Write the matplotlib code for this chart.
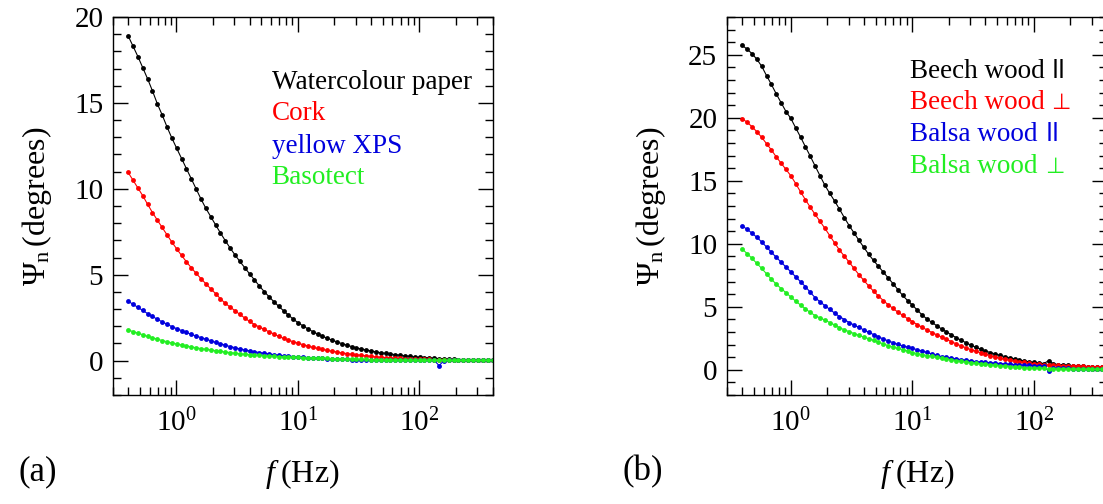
import numpy as np
import matplotlib
matplotlib.use('Agg')
import matplotlib.pyplot as plt
from matplotlib.ticker import MultipleLocator, LogLocator, NullFormatter

plt.rcParams['font.family'] = ['Liberation Serif', 'DejaVu Sans']
plt.rcParams['mathtext.fontset'] = 'custom'
plt.rcParams['mathtext.rm'] = 'Liberation Serif'
plt.rcParams['mathtext.it'] = 'Liberation Serif:italic'
plt.rcParams['mathtext.default'] = 'regular'

# frequency sweep (Hz), 25 points per decade from 0.4 to 400 Hz
freq = np.logspace(np.log10(0.4), np.log10(400), 76)

# panel (a)
watercolour = [18.9, 18.3, 17.7, 17.05, 16.4, 15.7, 14.95, 14.3, 13.6, 12.95,
               12.35, 11.76, 11.17, 10.58, 9.99, 9.4, 8.86, 8.38, 7.9, 7.43,
               6.98, 6.55, 6.15, 5.77, 5.41, 5.05, 4.7, 4.35, 4.02, 3.72,
               3.43, 3.16, 2.9, 2.65, 2.41, 2.2, 2.02, 1.85, 1.69, 1.55,
               1.42, 1.3, 1.19, 1.09, 0.99, 0.9, 0.82, 0.74, 0.68, 0.62,
               0.56, 0.51, 0.46, 0.42, 0.38, 0.35, 0.31, 0.28, 0.25, 0.22,
               0.2, 0.18, 0.16, 0.14, 0.12, 0.1, 0.08, 0.07, 0.06, 0.05,
               0.05, 0.04, 0.04, 0.03, 0.03, 0.03]
cork = [10.95, 10.5, 10.05, 9.6, 9.1, 8.62, 8.18, 7.75, 7.32, 6.9,
        6.5, 6.12, 5.75, 5.4, 5.08, 4.77, 4.47, 4.18, 3.9, 3.6,
        3.33, 3.12, 2.9, 2.69, 2.48, 2.28, 2.1, 1.96, 1.82, 1.68,
        1.55, 1.41, 1.29, 1.19, 1.1, 1.01, 0.93, 0.85, 0.77, 0.71,
        0.65, 0.6, 0.55, 0.5, 0.45, 0.41, 0.37, 0.34, 0.31, 0.28,
        0.25, 0.22, 0.2, 0.18, 0.16, 0.14, 0.13, 0.12, 0.1, 0.09,
        0.08, 0.08, 0.07, 0.06, 0.06, 0.05, 0.05, 0.04, 0.04, 0.03,
        0.03, 0.03, 0.02, 0.02, 0.02, 0.02]
yellow_xps = [3.46, 3.28, 3.1, 2.92, 2.74, 2.57, 2.41, 2.26, 2.12, 1.98,
              1.86, 1.75, 1.64, 1.53, 1.43, 1.34, 1.25, 1.16, 1.06, 0.98,
              0.9, 0.82, 0.75, 0.68, 0.62, 0.57, 0.52, 0.47, 0.43, 0.39,
              0.35, 0.31, 0.28, 0.26, 0.24, 0.22, 0.2, 0.18, 0.17, 0.15,
              0.13, 0.12, 0.1, 0.09, 0.08, 0.07, 0.06, 0.05, 0.05, 0.04,
              0.04, 0.03, 0.03, 0.03, 0.02, 0.02, 0.02, 0.02, 0.02, 0.02,
              0.02, 0.02, 0.02, 0.02, -0.29, 0.0, 0.02, 0.02, 0.02, 0.02,
              0.02, 0.02, 0.02, 0.02, 0.02, 0.02]
basotect = [1.79, 1.69, 1.6, 1.51, 1.41, 1.33, 1.25, 1.17, 1.1, 1.03,
            0.97, 0.91, 0.86, 0.8, 0.75, 0.7, 0.66, 0.62, 0.58, 0.54,
            0.5, 0.47, 0.43, 0.4, 0.37, 0.35, 0.33, 0.31, 0.29, 0.27,
            0.25, 0.24, 0.23, 0.21, 0.2, 0.19, 0.18, 0.17, 0.16, 0.15,
            0.14, 0.13, 0.12, 0.11, 0.1, 0.1, 0.09, 0.08, 0.07, 0.07,
            0.06, 0.06, 0.05, 0.05, 0.04, 0.04, 0.03, 0.03, 0.03, 0.02,
            0.02, 0.02, 0.02, 0.02, 0.01, 0.01, 0.01, 0.01, 0.01, 0.01,
            0.01, 0.01, 0.01, 0.01, 0.01, 0.01]

# panel (b)
beech_par = [25.75, 25.45, 25.1, 24.65, 24.1, 23.35, 22.65, 21.9, 21.2, 20.5,
             19.95, 19.2, 18.47, 17.7, 16.95, 16.17, 15.4, 14.65, 14.0, 13.4,
             12.75, 12.08, 11.44, 10.86, 10.28, 9.72, 9.17, 8.68, 8.22, 7.76,
             7.3, 6.84, 6.37, 5.9, 5.5, 5.13, 4.74, 4.35, 4.03, 3.76,
             3.5, 3.24, 3.01, 2.78, 2.55, 2.35, 2.15, 1.96, 1.79, 1.64,
             1.5, 1.37, 1.26, 1.15, 1.05, 0.95, 0.87, 0.78, 0.7, 0.64,
             0.58, 0.54, 0.5, 0.72, 0.46, 0.42, 0.39, 0.36, 0.33, 0.3,
             0.28, 0.26, 0.24, 0.22, 0.21, 0.2]
beech_perp = [19.93, 19.65, 19.3, 18.9, 18.45, 17.95, 17.45, 16.9, 16.4, 15.9,
              15.4, 14.78, 14.12, 13.5, 12.9, 12.33, 11.78, 11.23, 10.65, 10.07,
              9.5, 9.02, 8.54, 8.04, 7.55, 7.1, 6.66, 6.24, 5.86, 5.5,
              5.17, 4.87, 4.58, 4.32, 4.06, 3.82, 3.59, 3.37, 3.16, 2.96,
              2.78, 2.6, 2.42, 2.24, 2.06, 1.9, 1.75, 1.61, 1.48, 1.36,
              1.24, 1.12, 1.02, 0.92, 0.83, 0.76, 0.7, 0.64, 0.58, 0.52,
              0.47, 0.44, 0.41, 0.39, 0.37, 0.35, 0.33, 0.31, 0.3, 0.28,
              0.27, 0.26, 0.25, 0.24, 0.23, 0.22]
balsa_par = [11.43, 11.15, 10.85, 10.52, 10.15, 9.75, 9.33, 8.93, 8.55, 8.15,
             7.78, 7.38, 6.99, 6.6, 6.15, 5.72, 5.4, 5.09, 4.8, 4.5,
             4.23, 3.99, 3.75, 3.55, 3.36, 3.17, 2.98, 2.8, 2.62, 2.45,
             2.3, 2.16, 2.02, 1.9, 1.8, 1.7, 1.6, 1.49, 1.38, 1.26,
             1.15, 1.05, 0.99, 0.93, 0.87, 0.81, 0.76, 0.7, 0.65, 0.62,
             0.59, 0.56, 0.53, 0.5, 0.47, 0.44, 0.42, 0.4, 0.38, 0.36,
             0.34, 0.32, 0.3, -0.13, 0.14, 0.13, 0.12, 0.11, 0.1, 0.09,
             0.08, 0.07, 0.07, 0.06, 0.06, 0.05]
balsa_perp = [9.58, 9.23, 8.85, 8.45, 8.05, 7.62, 7.19, 6.8, 6.45, 6.12,
              5.78, 5.45, 5.14, 4.84, 4.55, 4.3, 4.12, 3.95, 3.75, 3.56,
              3.34, 3.18, 3.03, 2.88, 2.73, 2.6, 2.47, 2.34, 2.2, 2.06,
              1.92, 1.8, 1.7, 1.6, 1.49, 1.37, 1.29, 1.21, 1.13, 1.06,
              0.98, 0.91, 0.85, 0.79, 0.73, 0.67, 0.62, 0.57, 0.52, 0.48,
              0.44, 0.4, 0.36, 0.33, 0.29, 0.26, 0.23, 0.21, 0.18, 0.16,
              0.13, 0.12, 0.11, 0.05, 0.09, 0.08, 0.08, 0.07, 0.07, 0.06,
              0.06, 0.05, 0.05, 0.05, 0.05, 0.05]

labels_a = ['Watercolour paper', 'Cork', 'yellow XPS', 'Basotect']
labels_b = ['Beech wood', 'Beech wood', 'Balsa wood', 'Balsa wood']
par, perp = 'll', '\u22a5'
symbols_b = [par, perp, par, perp]
colors = ['black', 'red', '#0000dd', '#22ee22']

W, H = 1103, 504
fig = plt.figure(figsize=(W / 100, H / 100), dpi=100)
ax_a = fig.add_axes([113 / W, 109 / H, 379.5 / W, 378 / H])
ax_b = fig.add_axes([727 / W, 109 / H, 380 / W, 378 / H])


def style(ax, ymax):
    ax.set_xscale('log')
    ax.set_xlim(0.3, 400)
    ax.set_ylim(-2, ymax)
    ax.yaxis.set_major_locator(MultipleLocator(5))
    ax.yaxis.set_minor_locator(MultipleLocator(1))
    ax.xaxis.set_major_locator(LogLocator(base=10, numticks=10))
    ax.xaxis.set_minor_locator(LogLocator(base=10, subs=np.arange(2, 10), numticks=10))
    ax.xaxis.set_minor_formatter(NullFormatter())
    ax.tick_params(which='both', direction='in', top=True, right=True, width=1.0)
    ax.tick_params(which='major', length=11)
    ax.tick_params(which='minor', length=5.5)
    ax.tick_params(axis='y', which='major', labelsize=21, pad=7)
    ax.tick_params(axis='x', which='major', labelsize=21, pad=10)
    for s in ax.spines.values():
        s.set_linewidth(1.0)
    ax.set_xlabel(r'$\it{f}\;$(Hz)', fontsize=23, labelpad=14)
    ax.set_ylabel(r'$\Psi_{\rm n}\,$(degrees)', fontsize=23)
    ax.yaxis.set_label_coords(-0.155, 0.5)


for ax, series, ymax in [(ax_a, [watercolour, cork, yellow_xps, basotect], 20),
                         (ax_b, [beech_par, beech_perp, balsa_par, balsa_perp], 28)]:
    for vals, c in zip(series, colors):
        ax.plot(freq, vals, '-o', color=c, lw=0.8, ms=3.5, mew=0)
    style(ax, ymax)

ys_a = [0.809, 0.7275, 0.641, 0.557]
for lab, c, y in zip(labels_a, colors, ys_a):
    ax_a.text(0.418, y, lab, color=c, fontsize=19.5, transform=ax_a.transAxes, va='baseline')

ys_b = [0.839, 0.757, 0.672, 0.588]
sym_x = [0.855, 0.852, 0.839, 0.838]
sym_size = [18, 16, 18, 16]
for lab, sym, c, y, sx, sz in zip(labels_b, symbols_b, colors, ys_b, sym_x, sym_size):
    ax_b.text(0.482, y, lab, color=c, fontsize=19.5, transform=ax_b.transAxes, va='baseline')
    ax_b.text(sx, y, sym, color=c, fontsize=sz, family='DejaVu Sans',
              transform=ax_b.transAxes, va='baseline')

fig.text(18 / W, 1 - 480 / H, '(a)', fontsize=25, va='baseline')
fig.text(622 / W, 1 - 480 / H, '(b)', fontsize=25, va='baseline')

fig.savefig('out.png', dpi=100)
